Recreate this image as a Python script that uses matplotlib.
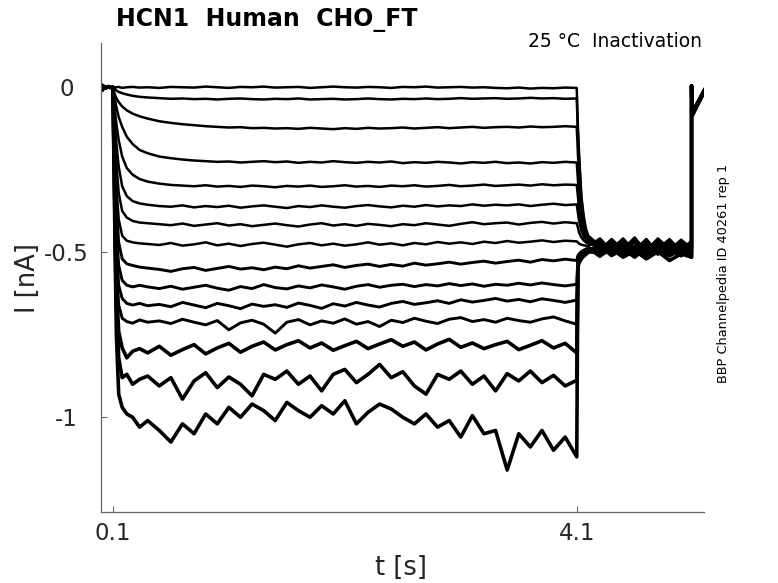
import matplotlib
matplotlib.use("Agg")
import matplotlib.pyplot as plt

# shared baseline before the prepulse (all sweeps overlap here)
base_t = [0.0, 0.005, 0.01, 0.02, 0.04, 0.06, 0.08, 0.1]
base_i = [0.0, 0.006, -0.008, 0.003, -0.002, 0.002, -0.001, 0.0]

# prepulse segment, 0.1 s -> 4.1 s
pre_t = [0.10, 0.11, 0.12, 0.13, 0.15, 0.18, 0.22, 0.27, 0.33, 0.40,
         0.5, 0.6, 0.7, 0.8, 0.9, 1.0, 1.1, 1.2, 1.3, 1.4,
         1.5, 1.6, 1.7, 1.8, 1.9, 2.0, 2.1, 2.2, 2.3, 2.4,
         2.5, 2.6, 2.7, 2.8, 2.9, 3.0, 3.1, 3.2, 3.3, 3.4,
         3.5, 3.6, 3.7, 3.8, 3.9, 4.0, 4.1]

pre_i = [
    [0.0, 0.0, -0.002, 0.0, 0.001, -0.002, 0.0, 0.001, -0.001, 0.0,
     -0.002, 0.001, 0.0, -0.001, 0.002, 0.0, -0.002, 0.001, 0.0, 0.002,
     -0.001, 0.0, 0.001, -0.002, 0.0, 0.002, 0.0, -0.001, 0.001, 0.0,
     -0.002, 0.001, 0.0, 0.002, -0.001, 0.0, 0.001, -0.001, 0.0, -0.002,
     -0.003, -0.001, -0.004, -0.002, -0.003, -0.001, -0.002],
    [0.0, -0.004, -0.008, -0.010, -0.014, -0.018, -0.022, -0.026, -0.029, -0.031,
     -0.033, -0.035, -0.034, -0.036, -0.035, -0.037, -0.035, -0.034, -0.036, -0.037,
     -0.035, -0.036, -0.034, -0.037, -0.036, -0.035, -0.037, -0.036, -0.034, -0.036,
     -0.037, -0.035, -0.036, -0.034, -0.036, -0.035, -0.033, -0.035, -0.034, -0.033,
     -0.035, -0.034, -0.032, -0.034, -0.033, -0.035, -0.034],
    [0.0, -0.015, -0.025, -0.033, -0.045, -0.058, -0.07, -0.08, -0.088, -0.095,
     -0.103, -0.108, -0.112, -0.115, -0.118, -0.12, -0.122, -0.121, -0.124, -0.123,
     -0.125, -0.124, -0.126, -0.123, -0.125, -0.127, -0.124, -0.126, -0.123, -0.125,
     -0.124, -0.122, -0.125, -0.123, -0.121, -0.124, -0.122, -0.12, -0.123, -0.121,
     -0.12, -0.122, -0.119, -0.121, -0.12, -0.118, -0.12],
    [0.0, -0.02, -0.04, -0.06, -0.09, -0.12, -0.15, -0.172, -0.19, -0.2,
     -0.21, -0.215, -0.219, -0.222, -0.224, -0.226, -0.225, -0.228, -0.226, -0.224,
     -0.227, -0.225, -0.229, -0.226, -0.228, -0.224, -0.227, -0.229, -0.226, -0.228,
     -0.225, -0.23, -0.227, -0.229, -0.226, -0.228, -0.231, -0.227, -0.229, -0.226,
     -0.23, -0.228, -0.231, -0.227, -0.229, -0.226, -0.228],
    [0.0, -0.04, -0.08, -0.11, -0.16, -0.21, -0.245, -0.265, -0.278, -0.286,
     -0.292, -0.296, -0.298, -0.3, -0.297, -0.301, -0.299, -0.302, -0.298, -0.3,
     -0.303, -0.299, -0.301, -0.298, -0.302, -0.3, -0.297, -0.301, -0.299, -0.302,
     -0.298, -0.3, -0.297, -0.301, -0.299, -0.296, -0.3, -0.298, -0.295, -0.299,
     -0.297, -0.295, -0.298, -0.294, -0.297, -0.295, -0.296],
    [0.0, -0.06, -0.12, -0.17, -0.24, -0.3, -0.33, -0.345, -0.352, -0.356,
     -0.36, -0.362, -0.358, -0.364, -0.36, -0.363, -0.359, -0.365, -0.361, -0.358,
     -0.362, -0.366, -0.36, -0.363, -0.358, -0.362, -0.365, -0.36, -0.357, -0.361,
     -0.364, -0.359, -0.362, -0.357, -0.361, -0.358, -0.36, -0.355, -0.359, -0.356,
     -0.358, -0.355, -0.36, -0.356, -0.353, -0.357, -0.355],
    [0.0, -0.08, -0.16, -0.23, -0.32, -0.375, -0.395, -0.405, -0.41, -0.412,
     -0.415, -0.418, -0.413, -0.42, -0.416, -0.412, -0.419, -0.415, -0.421, -0.417,
     -0.413, -0.418, -0.422, -0.416, -0.412, -0.419, -0.415, -0.42, -0.414, -0.417,
     -0.421, -0.415, -0.418, -0.412, -0.416, -0.42, -0.414, -0.409, -0.415, -0.412,
     -0.41, -0.416, -0.411, -0.408, -0.413, -0.409, -0.412],
    [0.0, -0.1, -0.2, -0.3, -0.4, -0.45, -0.465, -0.47, -0.473, -0.475,
     -0.478, -0.472, -0.48, -0.476, -0.47, -0.479, -0.474, -0.481, -0.475, -0.471,
     -0.477, -0.483, -0.476, -0.472, -0.479, -0.474, -0.48, -0.476, -0.47, -0.477,
     -0.473, -0.479, -0.472, -0.476, -0.469, -0.474, -0.47, -0.475, -0.468, -0.472,
     -0.466, -0.471, -0.468, -0.464, -0.469, -0.465, -0.467],
    [0.0, -0.12, -0.25, -0.36, -0.47, -0.52, -0.535, -0.54, -0.545, -0.548,
     -0.552, -0.558, -0.55, -0.546, -0.555, -0.549, -0.543, -0.551, -0.547, -0.553,
     -0.545, -0.55, -0.541, -0.548, -0.543, -0.538, -0.546, -0.54, -0.536, -0.543,
     -0.537, -0.542, -0.533, -0.539, -0.535, -0.53, -0.536, -0.531, -0.527, -0.533,
     -0.528, -0.524, -0.53, -0.522, -0.526, -0.521, -0.525],
    [0.0, -0.14, -0.3, -0.43, -0.54, -0.585, -0.6, -0.605, -0.6, -0.605,
     -0.61, -0.603, -0.612, -0.606, -0.6, -0.609, -0.615, -0.604, -0.61, -0.598,
     -0.607, -0.611, -0.602, -0.608, -0.599, -0.605, -0.612, -0.603, -0.598, -0.606,
     -0.6, -0.597, -0.604, -0.598, -0.602, -0.595, -0.601, -0.596, -0.603, -0.597,
     -0.6, -0.594, -0.599, -0.593, -0.598, -0.602, -0.597],
    [0.0, -0.16, -0.34, -0.48, -0.6, -0.64, -0.655, -0.66, -0.655, -0.662,
     -0.658, -0.665, -0.652, -0.66, -0.668, -0.655, -0.662, -0.671, -0.657, -0.664,
     -0.659, -0.667, -0.654, -0.661, -0.67, -0.656, -0.663, -0.652, -0.66, -0.666,
     -0.655, -0.649, -0.658, -0.653, -0.647, -0.655, -0.644, -0.651, -0.646, -0.64,
     -0.648, -0.643, -0.65, -0.641, -0.646, -0.652, -0.645],
    [0.0, -0.18, -0.38, -0.53, -0.66, -0.7, -0.71, -0.715, -0.705, -0.712,
     -0.708, -0.716, -0.703, -0.712, -0.72, -0.707, -0.735, -0.714, -0.706, -0.718,
     -0.745, -0.712, -0.704, -0.72, -0.708, -0.715, -0.702, -0.718, -0.71, -0.725,
     -0.706, -0.713, -0.7, -0.709, -0.716, -0.703, -0.698, -0.71, -0.704, -0.712,
     -0.7, -0.707, -0.712, -0.702, -0.696, -0.708, -0.718],
    [0.0, -0.2, -0.42, -0.6, -0.74, -0.79, -0.82, -0.8, -0.792, -0.805,
     -0.785, -0.812, -0.795, -0.78, -0.808, -0.79, -0.776, -0.803, -0.785, -0.772,
     -0.796, -0.78, -0.768, -0.79, -0.775, -0.797, -0.783, -0.77, -0.792, -0.778,
     -0.765, -0.785, -0.772, -0.796, -0.778, -0.764, -0.788, -0.775, -0.792, -0.78,
     -0.77, -0.795, -0.782, -0.768, -0.79, -0.776, -0.805],
    [0.0, -0.22, -0.46, -0.66, -0.82, -0.88, -0.87, -0.9, -0.885, -0.875,
     -0.905, -0.88, -0.945, -0.89, -0.865, -0.91, -0.878, -0.9, -0.935, -0.87,
     -0.885, -0.86, -0.9, -0.875, -0.92, -0.87, -0.855, -0.895, -0.87, -0.84,
     -0.88, -0.862, -0.905, -0.93, -0.87, -0.885, -0.86, -0.9, -0.875, -0.92,
     -0.868, -0.89, -0.86, -0.895, -0.873, -0.905, -0.888],
    [0.0, -0.25, -0.52, -0.75, -0.93, -0.97, -0.99, -1.0, -1.03, -1.01,
     -1.04, -1.075, -1.02, -1.05, -0.99, -1.02, -0.97, -1.0, -0.96, -0.98,
     -1.01, -0.955, -0.98, -1.0, -0.965, -0.99, -0.95, -1.02, -0.985, -0.96,
     -0.975, -1.0, -1.02, -0.99, -1.03, -1.01, -1.06, -0.995, -1.05, -1.04,
     -1.16, -1.05, -1.09, -1.04, -1.1, -1.06, -1.12],
]

# test pulse (4.1 s -> 5.09 s) and return to holding
tail_t = [4.1, 4.11, 4.12, 4.14, 4.16, 4.18, 4.2, 4.25, 4.3, 4.4,
          4.5, 4.6, 4.7, 4.8, 4.9, 5.0, 5.09, 5.09, 5.095, 5.2]

tail_i = [
    [-0.002, -0.12, -0.2, -0.33, -0.39, -0.43, -0.45, -0.465, -0.49, -0.462,
     -0.5, -0.468, -0.495, -0.458, -0.49, -0.47, -0.498, 0.005, -0.078, -0.008],
    [-0.034, -0.14, -0.22, -0.34, -0.40, -0.435, -0.452, -0.47, -0.458, -0.495,
     -0.465, -0.502, -0.47, -0.49, -0.46, -0.497, -0.472, 0.004, -0.082, -0.01],
    [-0.12, -0.2, -0.27, -0.36, -0.41, -0.44, -0.455, -0.472, -0.495, -0.466,
     -0.49, -0.455, -0.5, -0.472, -0.493, -0.462, -0.488, 0.003, -0.075, -0.006],
    [-0.228, -0.28, -0.33, -0.39, -0.425, -0.448, -0.46, -0.474, -0.462, -0.5,
     -0.47, -0.494, -0.46, -0.505, -0.468, -0.492, -0.465, 0.005, -0.085, -0.012],
    [-0.296, -0.33, -0.37, -0.415, -0.44, -0.455, -0.465, -0.476, -0.498, -0.46,
     -0.492, -0.47, -0.503, -0.464, -0.496, -0.475, -0.5, 0.004, -0.08, -0.009],
    [-0.355, -0.38, -0.405, -0.435, -0.452, -0.462, -0.469, -0.478, -0.465, -0.49,
     -0.458, -0.497, -0.475, -0.491, -0.463, -0.504, -0.47, 0.005, -0.077, -0.007],
    [-0.412, -0.425, -0.44, -0.455, -0.464, -0.47, -0.474, -0.48, -0.496, -0.468,
     -0.5, -0.463, -0.488, -0.472, -0.507, -0.466, -0.49, 0.003, -0.083, -0.011],
    [-0.467, -0.47, -0.474, -0.477, -0.479, -0.48, -0.482, -0.47, -0.5, -0.464,
     -0.489, -0.495, -0.461, -0.498, -0.478, -0.493, -0.47, 0.004, -0.079, -0.008],
    [-0.525, -0.51, -0.505, -0.498, -0.494, -0.49, -0.488, -0.493, -0.472, -0.505,
     -0.478, -0.51, -0.481, -0.496, -0.512, -0.478, -0.502, 0.005, -0.086, -0.013],
    [-0.597, -0.515, -0.51, -0.502, -0.497, -0.493, -0.49, -0.487, -0.505, -0.47,
     -0.499, -0.48, -0.508, -0.476, -0.503, -0.485, -0.51, 0.004, -0.081, -0.01],
    [-0.645, -0.52, -0.514, -0.506, -0.5, -0.496, -0.492, -0.496, -0.478, -0.508,
     -0.483, -0.5, -0.47, -0.506, -0.488, -0.512, -0.482, 0.003, -0.076, -0.007],
    [-0.718, -0.525, -0.518, -0.509, -0.502, -0.498, -0.494, -0.49, -0.507, -0.475,
     -0.504, -0.487, -0.511, -0.478, -0.5, -0.474, -0.505, 0.005, -0.084, -0.012],
    [-0.805, -0.53, -0.522, -0.512, -0.505, -0.5, -0.496, -0.492, -0.48, -0.51,
     -0.49, -0.515, -0.485, -0.505, -0.476, -0.508, -0.49, 0.004, -0.08, -0.009],
    [-0.888, -0.535, -0.526, -0.515, -0.508, -0.502, -0.498, -0.5, -0.512, -0.482,
     -0.509, -0.49, -0.518, -0.484, -0.51, -0.494, -0.515, 0.005, -0.087, -0.014],
    [-1.12, -0.545, -0.532, -0.52, -0.512, -0.506, -0.5, -0.495, -0.51, -0.49,
     -0.515, -0.495, -0.52, -0.498, -0.525, -0.505, -0.515, 0.004, -0.083, -0.011],
]

xticks = [0.1, 4.1]
xtick_labels = ["0.1", "4.1"]
yticks = [-1, -0.5, 0]
ytick_labels = ["-1", "-0.5", "0"]

W, H = 778, 583
fig = plt.figure(figsize=(W / 100, H / 100), dpi=100)
ax = fig.add_axes([101.3 / W, 1 - 512.3 / H, 603 / W, 469.6 / H])

n = len(pre_i)
for k in range(n):
    ts = base_t + pre_t + tail_t
    vs = base_i + pre_i[k] + tail_i[k]
    # noisier (larger) sweeps look like thicker bands
    lw = 1.8 if k < 8 else (2.1 if k < 12 else 2.6)
    ax.plot(ts, vs, color="black", lw=lw, solid_joinstyle="round")

ax.set_xlim(0, 5.2)
ax.set_ylim(-1.288, 0.135)

for side in ["top", "right"]:
    ax.spines[side].set_visible(False)
for side in ["left", "bottom"]:
    ax.spines[side].set_color("#666666")
    ax.spines[side].set_linewidth(0.9)

ax.set_xticks(xticks)
ax.set_xticklabels(xtick_labels)
ax.set_yticks(yticks)
ax.set_yticklabels(ytick_labels, ha="center")
ax.tick_params(direction="in", length=4.3, width=0.8, color="#666666",
               labelcolor="#262626", labelsize=16.5)
ax.tick_params(axis="x", pad=7)
ax.tick_params(axis="y", pad=25)

fig.text(116 / W, 1 - 26 / H, "HCN1  Human  CHO_FT", fontsize=17,
         fontweight="bold", ha="left", va="baseline")
fig.text(702 / W, 1 - 47 / H, "25 °C  Inactivation", fontsize=13.5,
         ha="right", va="baseline")
fig.text(723 / W, 1 - 273 / H, "BBP Channelpedia ID 40261 rep 1", fontsize=9.3,
         rotation=90, ha="center", va="center")
fig.text(401 / W, 1 - 568 / H, "t [s]", fontsize=18.5, color="#262626",
         ha="center", va="center")
fig.text(28 / W, 1 - 278 / H, "I [nA]", fontsize=18.5, color="#262626",
         rotation=90, ha="center", va="center")

fig.savefig("out.png", dpi=100)
